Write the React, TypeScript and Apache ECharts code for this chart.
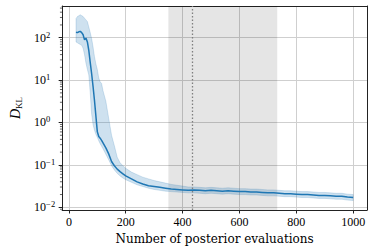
import React, { useEffect, useRef } from "react";
import * as echarts from "echarts";

// Number of posterior evaluations
const evals = [
  25, 30, 35, 40, 45, 50, 55, 60, 65, 70, 75, 80, 85, 90, 95, 100, 105, 110, 115, 120,
  130, 140, 150, 160, 170, 180, 190, 200,
  220, 240, 260, 280, 300, 320, 340, 360, 380, 400, 420, 440, 460, 480, 500,
  520, 540, 560, 580, 600, 620, 640, 660, 680, 700, 720, 740, 760, 780, 800,
  820, 840, 860, 880, 900, 920, 940, 960, 980, 1000,
];
// log10 of D_KL: mean, upper and lower band
const meanLog10 = [
  2.13, 2.12, 2.14, 2.15, 2.12, 2.07, 1.95, 1.99, 1.9, 1.7, 1.42, 1.15, 0.85, 0.52, 0.15, -0.22, -0.33, -0.37, -0.42, -0.48,
  -0.6, -0.74, -0.92, -1.02, -1.1, -1.16, -1.21, -1.26,
  -1.33, -1.4, -1.45, -1.49, -1.51, -1.53, -1.55, -1.57, -1.58, -1.59, -1.6, -1.59, -1.6, -1.61, -1.6,
  -1.61, -1.62, -1.61, -1.62, -1.63, -1.63, -1.64, -1.64, -1.65, -1.66, -1.66, -1.67, -1.68, -1.68, -1.69,
  -1.7, -1.7, -1.71, -1.72, -1.72, -1.73, -1.74, -1.74, -1.76, -1.77,
];
const upperLog10 = [
  2.45, 2.5, 2.52, 2.54, 2.52, 2.5, 2.46, 2.42, 2.38, 2.25, 2.12, 1.98, 1.78, 1.55, 1.38, 1.25, 1.05, 0.96, 0.92, 0.75,
  0.5, 0.1, -0.3, -0.55, -0.82, -0.95, -1.02, -1.08,
  -1.17, -1.23, -1.29, -1.33, -1.37, -1.4, -1.43, -1.46, -1.48, -1.5, -1.52, -1.52, -1.53, -1.54, -1.53,
  -1.54, -1.55, -1.54, -1.55, -1.56, -1.56, -1.57, -1.57, -1.58, -1.59, -1.59, -1.6, -1.61, -1.61, -1.62,
  -1.63, -1.63, -1.64, -1.65, -1.65, -1.66, -1.67, -1.67, -1.69, -1.7,
];
const lowerLog10 = [
  1.9, 1.88, 1.86, 1.84, 1.82, 1.75, 1.6, 1.4, 1.25, 1.12, 0.7, 0.2, -0.05, -0.18, -0.28, -0.35, -0.43, -0.5, -0.56, -0.62,
  -0.75, -0.88, -1.02, -1.12, -1.2, -1.26, -1.31, -1.35,
  -1.41, -1.47, -1.51, -1.55, -1.58, -1.6, -1.62, -1.63, -1.64, -1.65, -1.66, -1.66, -1.67, -1.68, -1.67,
  -1.68, -1.69, -1.68, -1.69, -1.7, -1.7, -1.71, -1.71, -1.72, -1.73, -1.73, -1.74, -1.75, -1.75, -1.76,
  -1.77, -1.77, -1.78, -1.79, -1.79, -1.8, -1.81, -1.81, -1.83, -1.84,
];
const xTicks = [0, 200, 400, 600, 800, 1000];
const yTickExps = [-2, -1, 0, 1, 2];
const shadedRange = [350, 733];
const markerEval = 433;

const X_MIN = -23.75;
const X_MAX = 1048.75;
const Y_MIN = -2.064;
const Y_MAX = 2.748;

const BLUE = "#1f77b4";
const SERIF = "DejaVu Serif";
const TICKFONT = "Liberation Serif";

export default function App() {
  const ref = useRef<HTMLDivElement>(null);
  useEffect(() => {
    if (!ref.current) return;
    const chart = echarts.init(ref.current, undefined, { renderer: "svg" });

    const minorVals: number[] = [];
    for (let e = -3; e <= 2; e++) {
      for (let k = 2; k <= 9; k++) {
        const v = e + Math.log10(k);
        if (v > Y_MIN && v < Y_MAX) minorVals.push(v);
      }
    }

    const gridLine = { show: true, lineStyle: { color: "#cfcfcf", width: 1 } };
    const frame = { show: true, onZero: false, lineStyle: { color: "#222", width: 1 } };

    chart.setOption({
      animation: false,
      grid: { left: 53, right: 7, top: 6, bottom: 41, containLabel: false },
      xAxis: [
        {
          type: "value",
          min: X_MIN,
          max: X_MAX,
          name: "Number of posterior evaluations",
          nameLocation: "middle",
          nameGap: 21,
          nameTextStyle: { fontFamily: SERIF, fontSize: 12, color: "#000" },
          axisLine: frame,
          axisTick: { show: true, length: 3.5, customValues: xTicks, lineStyle: { color: "#222" } },
          axisLabel: {
            customValues: xTicks,
            fontFamily: TICKFONT,
            fontSize: 12,
            color: "#000",
            margin: 6,
            formatter: (v: number) => String(Math.round(v)),
          },
          splitLine: gridLine,
        },
        {
          type: "value",
          position: "top",
          min: X_MIN,
          max: X_MAX,
          axisLine: frame,
          axisTick: { show: false },
          axisLabel: { show: false },
          splitLine: { show: false },
        },
      ],
      yAxis: [
        {
          type: "value",
          min: Y_MIN,
          max: Y_MAX,
          name: "{d|D}{k|KL}",
          nameLocation: "middle",
          nameRotate: 90,
          nameGap: 38,
          nameTextStyle: {
            rich: {
              d: { fontFamily: TICKFONT, fontStyle: "italic", fontSize: 14, lineHeight: 16, color: "#000" },
              k: { fontFamily: TICKFONT, fontSize: 9, verticalAlign: "bottom", color: "#000" },
            },
          },
          axisLine: frame,
          axisTick: { show: true, length: 3.5, customValues: yTickExps, lineStyle: { color: "#222" } },
          axisLabel: {
            customValues: yTickExps,
            margin: 7,
            formatter: (v: number) => {
              const e = Math.round(v);
              return e < 0 ? `{b|10}{n|\u2212${-e}}` : `{b|10}{p|${e}}`;
            },
            rich: {
              b: { fontFamily: TICKFONT, fontSize: 12, lineHeight: 15, color: "#000" },
              n: { fontFamily: TICKFONT, fontSize: 8.5, verticalAlign: "top", color: "#000" },
              p: { fontFamily: TICKFONT, fontSize: 8.5, verticalAlign: "top", color: "#000", padding: [0, 5, 0, 0] },
            },
          },
          splitLine: gridLine,
        },
        {
          type: "value",
          position: "right",
          min: Y_MIN,
          max: Y_MAX,
          axisLine: frame,
          axisTick: { show: false },
          axisLabel: { show: false },
          splitLine: { show: false },
        },
      ],
      series: [
        {
          type: "line",
          data: [],
          silent: true,
          markArea: {
            silent: true,
            itemStyle: { color: "rgba(0,0,0,0.1)" },
            data: [[{ xAxis: shadedRange[0] }, { xAxis: shadedRange[1] }]],
          },
          markLine: {
            silent: true,
            symbol: "none",
            label: { show: false },
            lineStyle: { color: "#7f7f7f", type: [1.5, 2], width: 1.3 },
            data: [{ xAxis: markerEval }],
          },
        },
        {
          type: "custom",
          clip: false,
          silent: true,
          data: [[evals[0], meanLog10[0]]],
          renderItem: (params: any, api: any) => {
            const pts: number[][] = [];
            for (let i = 0; i < evals.length; i++) pts.push(api.coord([evals[i], upperLog10[i]]));
            for (let i = evals.length - 1; i >= 0; i--) pts.push(api.coord([evals[i], lowerLog10[i]]));
            return {
              type: "polygon",
              shape: { points: pts },
              style: { fill: "rgba(31,119,180,0.22)", stroke: "rgba(31,119,180,0.3)", lineWidth: 0.6 },
            };
          },
        },
        {
          type: "line",
          data: evals.map((x, i) => [x, meanLog10[i]]),
          showSymbol: false,
          lineStyle: { color: BLUE, width: 1.5 },
          silent: true,
        },
        {
          type: "custom",
          clip: false,
          silent: true,
          data: minorVals.map((v) => [X_MIN, v]),
          renderItem: (params: any, api: any) => {
            const p = api.coord([X_MIN, api.value(1)]);
            return {
              type: "line",
              shape: { x1: p[0] - 2.2, y1: p[1], x2: p[0], y2: p[1] },
              style: { stroke: "#222", lineWidth: 0.7 },
            };
          },
        },
      ],
    });
    return () => chart.dispose();
  }, []);
  return (
    <div
      ref={ref}
      style={{ position: "absolute", left: 0, top: 0, width: 374, height: 251, background: "#fff" }}
    />
  );
}
